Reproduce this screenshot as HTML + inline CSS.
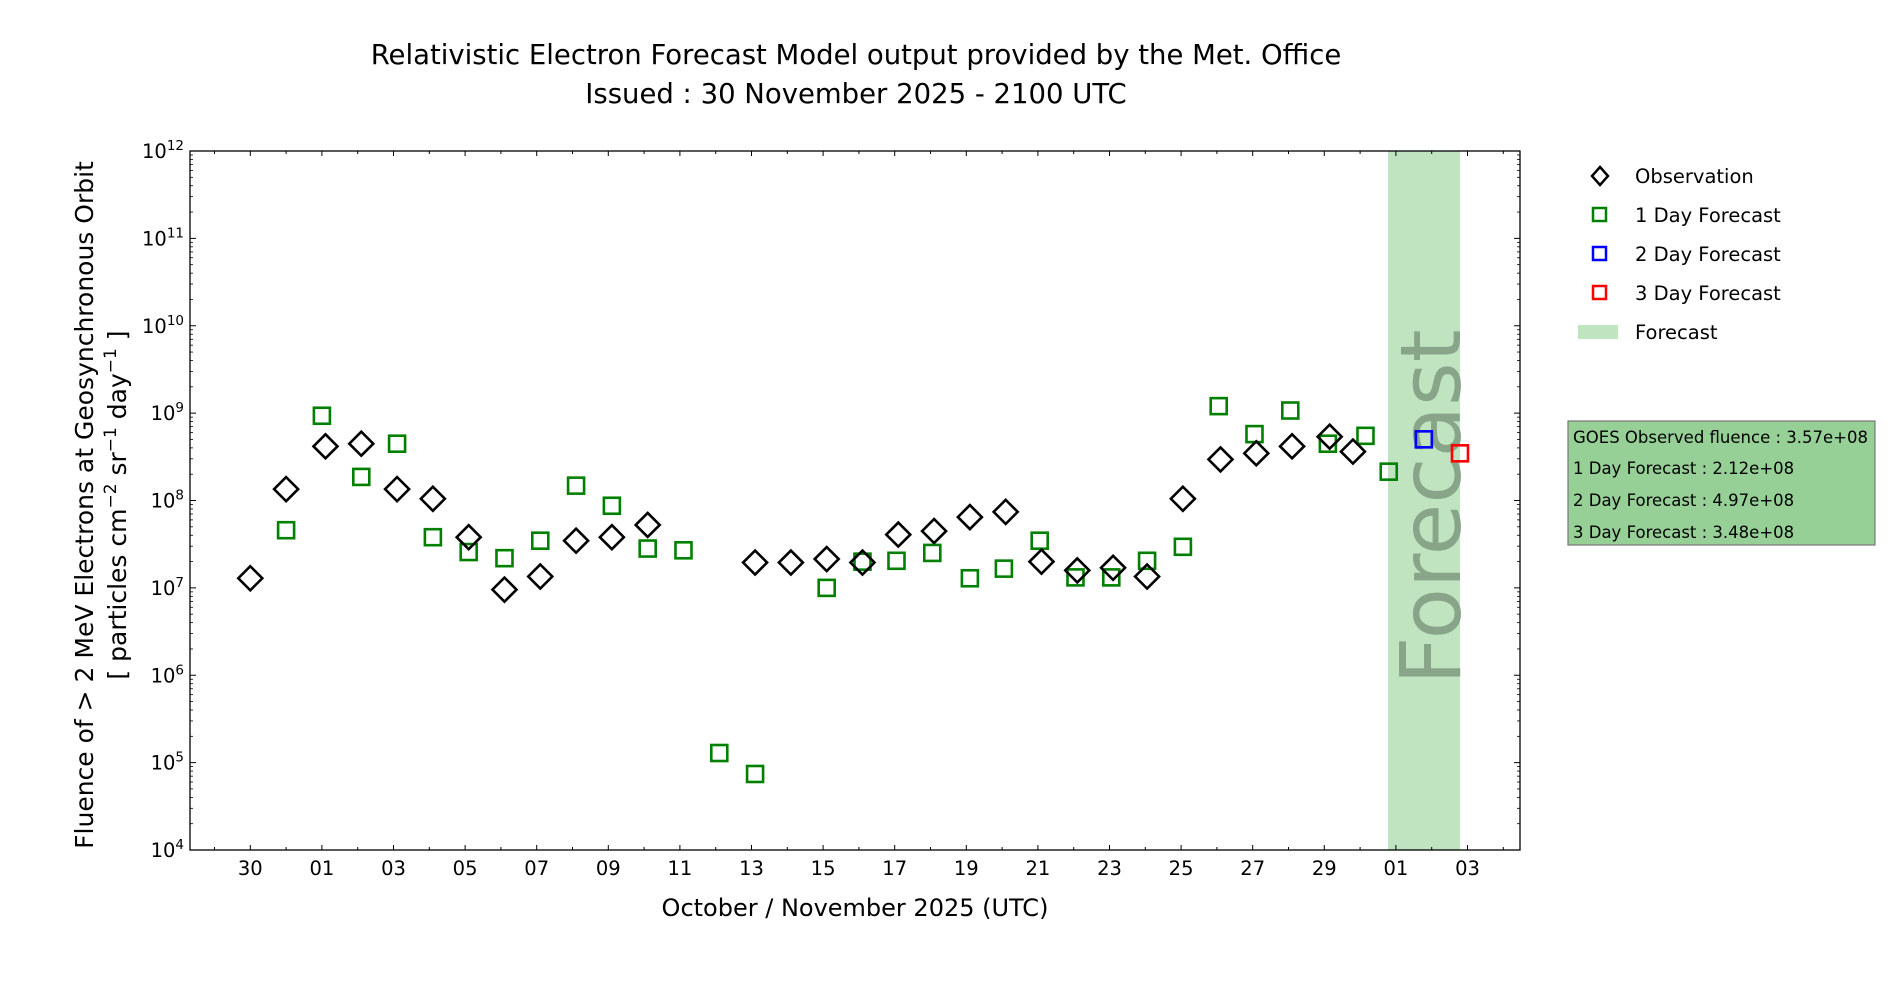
<!DOCTYPE html>
<html><head><meta charset="utf-8"><style>
html,body{margin:0;padding:0;background:#fff;}
svg{display:block;font-family:"DejaVu Sans","Liberation Sans",sans-serif;}
</style></head><body>
<svg id="chart" width="1900" height="1000" viewBox="0 0 1900 1000">
<g id="title">
<text x="856" y="64" font-size="27.5" text-anchor="middle">Relativistic Electron Forecast Model output provided by the Met. Office</text>
<text x="856" y="103" font-size="27.5" text-anchor="middle">Issued : 30 November 2025 - 2100 UTC</text>
</g>
<rect x="1388" y="151" width="72" height="699" fill="#bfe4bf"/>
<text transform="translate(1460,507) rotate(-90)" font-size="84" text-anchor="middle" fill="#7f9a7f" fill-opacity="0.85">Forecast</text>
<g id="axes"></g>
<g id="marks"></g>
<text transform="translate(93,505) rotate(-90)" font-size="25" text-anchor="middle">Fluence of &gt; 2 MeV Electrons at Geosynchronous Orbit</text>
<text transform="translate(126,505) rotate(-90)" font-size="25" text-anchor="middle">[ particles cm<tspan dy="-10" font-size="17">−2</tspan><tspan dy="10"> sr</tspan><tspan dy="-10" font-size="17">−1</tspan><tspan dy="10"> day</tspan><tspan dy="-10" font-size="17">−1</tspan><tspan dy="10"> ]</tspan></text>
<text x="855" y="916" font-size="24" text-anchor="middle">October / November 2025 (UTC)</text>
<g id="legend">
<path d="M1600 167 L1608 176 L1600 185 L1592 176 Z" fill="none" stroke="#000" stroke-width="2.5"/>
<text x="1635" y="183" font-size="19.5">Observation</text>
<rect x="1593" y="208" width="13" height="13" fill="none" stroke="green" stroke-width="2.5"/>
<text x="1635" y="222" font-size="19.5">1 Day Forecast</text>
<rect x="1593" y="247" width="13" height="13" fill="none" stroke="blue" stroke-width="2.5"/>
<text x="1635" y="261" font-size="19.5">2 Day Forecast</text>
<rect x="1593" y="286" width="13" height="13" fill="none" stroke="red" stroke-width="2.5"/>
<text x="1635" y="300" font-size="19.5">3 Day Forecast</text>
<rect x="1578" y="325" width="40" height="14" fill="#bfe4bf"/>
<text x="1635" y="339" font-size="19.5">Forecast</text>
</g>
<g>
<rect x="1568" y="421" width="307" height="124" fill="#96d096" stroke="#777" stroke-width="1.2"/>
<text x="1573" y="443" font-size="16.5">GOES Observed fluence : 3.57e+08</text>
<text x="1573" y="474" font-size="16.5">1 Day Forecast : 2.12e+08</text>
<text x="1573" y="506" font-size="16.5">2 Day Forecast : 4.97e+08</text>
<text x="1573" y="538" font-size="16.5">3 Day Forecast : 3.48e+08</text>
</g>
</svg>
<script>
// Days since 30 Oct 2025 00 UTC; values are log10(fluence)
const obsDays = [0,1.0,2.1,3.1,4.1,5.1,6.1,7.1,8.1,9.1,10.1,11.1,14.1,15.1,16.1,17.1,18.1,19.1,20.1,21.1,22.1,23.1,24.1,25.05,26.05,27.1,28.1,29.1,30.15,30.8];
const obsLog = [7.11,8.13,8.62,8.65,8.13,8.02,7.58,6.98,7.13,7.54,7.58,7.72,7.29,7.29,7.33,7.29,7.61,7.65,7.81,7.87,7.30,7.20,7.23,7.13,8.02,8.47,8.54,8.62,8.73,8.56];
const f1Days = [1.0,2.0,3.1,4.1,5.1,6.1,7.1,8.1,9.1,10.1,11.1,12.1,13.1,14.1,16.1,17.1,18.05,19.05,20.1,21.05,22.05,23.05,24.05,25.05,26.05,27.05,28.05,29.05,30.1,31.15,31.8];
const f1Log = [7.66,8.97,8.27,8.65,7.58,7.41,7.34,7.54,8.17,7.94,7.45,7.43,5.11,4.87,7.0,7.30,7.31,7.40,7.11,7.22,7.54,7.12,7.12,7.31,7.47,9.08,8.76,9.03,8.65,8.74,8.33];
const f2Days = [32.78];
const f2Log = [8.70];
const f3Days = [33.79];
const f3Log = [8.54];
const xTickDays = [0,2,4,6,8,10,12,14,16,18,20,22,24,26,28,30,32,34];
const xTickLabels = ["30","01","03","05","07","09","11","13","15","17","19","21","23","25","27","29","01","03"];
const yDecades = [4,5,6,7,8,9,10,11,12];

const NS="http://www.w3.org/2000/svg";
const L=190,R=1520,T=151,B=850;
const X=d=>250.3+35.8*d;
const Y=l=>B-(l-4)*87.375;
function mk(tag,attrs,parent){const e=document.createElementNS(NS,tag);for(const k in attrs)e.setAttribute(k,attrs[k]);parent.appendChild(e);return e;}
const axes=document.getElementById('axes');
const marks=document.getElementById('marks');
let fr=mk('rect',{x:L,y:T,width:R-L,height:B-T,fill:'none',stroke:'#000','stroke-width':1.3},axes);


for(let d=-1;d<=35;d++){
  const x=X(d); if(x<L||x>R)continue;
  const major=xTickDays.includes(d);
  const len=major?5:3;
  let t=mk('line',{x1:x,x2:x,y1:B,y2:B-len,stroke:'#000','stroke-width':1},axes);
  
  
  let t2=mk('line',{x1:x,x2:x,y1:T,y2:T+len,stroke:'#000','stroke-width':1},axes);
  
  
}
xTickDays.forEach((d,i)=>{
  const t=mk('text',{x:X(d),y:B+25,'font-size':19.5,'text-anchor':'middle'},axes);
  t.textContent=xTickLabels[i];
  
  
});
yDecades.forEach(p=>{
  const y=Y(p);
  let t=mk('line',{x1:L,x2:L+6,y1:y,y2:y,stroke:'#000','stroke-width':1},axes);
  
  
  let t2=mk('line',{x1:R,x2:R-6,y1:y,y2:y,stroke:'#000','stroke-width':1},axes);
  
  
  const lab=mk('text',{x:L-6,y:y+7,'font-size':19.5,'text-anchor':'end'},axes);
  
  
  const a=document.createElementNS(NS,'tspan');a.textContent='10';lab.appendChild(a);
  const b=document.createElementNS(NS,'tspan');b.setAttribute('dy','-8');b.setAttribute('font-size','13.5');b.textContent=String(p);lab.appendChild(b);
  if(p<12){for(let m=2;m<=9;m++){const ym=Y(p+Math.log10(m));
    let u=mk('line',{x1:L,x2:L+3,y1:ym,y2:ym,stroke:'#000','stroke-width':0.8},axes);
    
    
    let u2=mk('line',{x1:R,x2:R-3,y1:ym,y2:ym,stroke:'#000','stroke-width':0.8},axes);
    
    
  }}
});
function square(d,l,col,name){
  const s=16;
  const r=mk('rect',{x:X(d)-s/2,y:Y(l)-s/2,width:s,height:s,fill:'none',stroke:col,'stroke-width':2.6},marks);
  
  
}
f1Days.forEach((d,i)=>square(d,f1Log[i],'green','forecast-1day-point'));
obsDays.forEach((d,i)=>{
  const x=X(d),y=Y(obsLog[i]),h=12;
  const p=mk('path',{d:`M${x} ${y-h} L${x+h} ${y} L${x} ${y+h} L${x-h} ${y} Z`,fill:'none',stroke:'#000','stroke-width':2.6},marks);
  
  
});
f2Days.forEach((d,i)=>square(d,f2Log[i],'blue','forecast-2day-point'));
f3Days.forEach((d,i)=>square(d,f3Log[i],'red','forecast-3day-point'));
</script>
</body></html>
